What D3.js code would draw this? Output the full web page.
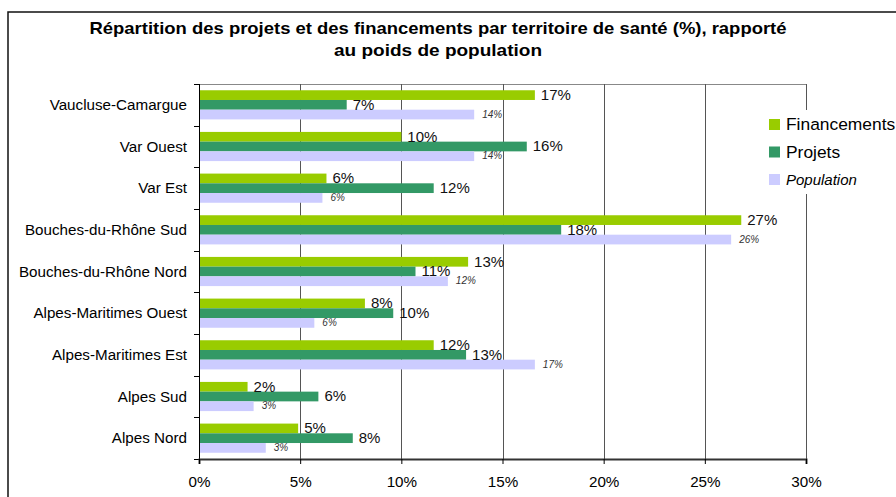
<!DOCTYPE html>
<html>
<head>
<meta charset="utf-8">
<script src="https://cdn.jsdelivr.net/npm/d3@7"></script>
<style>
  html, body { margin: 0; padding: 0; background: #fff; }
  svg { display: block; font-family: "Liberation Sans", Arial, sans-serif; }
</style>
</head>
<body>
<svg id="chart" width="896" height="497"></svg>
<script>
const categories = ["Vaucluse-Camargue", "Var Ouest", "Var Est", "Bouches-du-Rhône Sud",
  "Bouches-du-Rhône Nord", "Alpes-Maritimes Ouest", "Alpes-Maritimes Est", "Alpes Sud", "Alpes Nord"];
const seriesNames = ["Financements", "Projets", "Population"];
const financements = [16.6, 10.0, 6.3, 26.8, 13.3, 8.2, 11.6, 2.4, 4.9];
const projets      = [7.3, 16.2, 11.6, 17.9, 10.7, 9.6, 13.2, 5.9, 7.6];
const population   = [13.6, 13.6, 6.1, 26.3, 12.3, 5.7, 16.6, 2.7, 3.3];
const xTicks = [0, 5, 10, 15, 20, 25, 30];
const titleLines = ["Répartition des projets et des financements par territoire de santé (%), rapporté",
  "au poids de population"];

const colors = { Financements: "#99CC00", Projets: "#339966", Population: "#CCCCFF" };
const seriesData = { Financements: financements, Projets: projets, Population: population };

const svg = d3.select("#chart");
const pLeft = 199, pRight = 806, pTop = 84, pBottom = 459;

const x = d3.scaleLinear().domain([0, 30]).range([pLeft, pRight]);
const y = d3.scaleBand().domain(categories).range([pTop, pBottom]).paddingInner(0.3).paddingOuter(0.15);
const ySub = d3.scaleBand().domain(seriesNames).range([0, y.bandwidth()]);

// outer frame
svg.append("path")
  .attr("d", "M8,500 L8,12 L900,12")
  .attr("fill", "none").attr("stroke", "#111").attr("stroke-width", 1.5);

// title
const title = svg.append("g");
const titleWidths = [697, 208];
titleLines.forEach((t, i) => {
  title.append("text")
    .attr("x", 438).attr("y", 34 + i * 22)
    .attr("text-anchor", "middle")
    .attr("font-size", "17px").attr("font-weight", "bold").attr("fill", "#000")
    .attr("textLength", titleWidths[i]).attr("lengthAdjust", "spacingAndGlyphs")
    .text(t);
});

// plot top border
svg.append("line").attr("x1", pLeft).attr("x2", pRight).attr("y1", pTop + 0.5).attr("y2", pTop + 0.5)
  .attr("stroke", "#888").attr("stroke-width", 1);

// gridlines
svg.append("g").selectAll("line").data(xTicks.filter(d => d > 0)).join("line")
  .attr("x1", d => Math.round(x(d)) + 0.5).attr("x2", d => Math.round(x(d)) + 0.5)
  .attr("y1", pTop).attr("y2", pBottom)
  .attr("stroke", "#555").attr("stroke-width", 1);

// bars
const groups = svg.append("g").selectAll("g").data(categories).join("g")
  .attr("transform", d => `translate(0,${y(d)})`);
seriesNames.forEach(s => {
  groups.append("rect")
    .attr("x", pLeft)
    .attr("y", ySub(s))
    .attr("width", (d, i) => x(seriesData[s][i]) - pLeft)
    .attr("height", ySub.bandwidth())
    .attr("fill", colors[s]);
});

// labels
seriesNames.forEach(s => {
  const isPop = s === "Population";
  groups.append("text")
    .attr("x", (d, i) => x(seriesData[s][i]) + (isPop ? 8 : 6))
    .attr("y", ySub(s) + ySub.bandwidth() / 2 + (isPop ? 3 : 5))
    .attr("font-size", isPop ? "10px" : "15px")
    .attr("font-style", isPop ? "italic" : "normal")
    .attr("fill", isPop ? "#333" : "#111")
    .text((d, i) => Math.round(seriesData[s][i]) + "%");
});

// left axis
svg.append("line").attr("x1", pLeft + 0.5).attr("x2", pLeft + 0.5).attr("y1", pTop).attr("y2", pBottom)
  .attr("stroke", "#000").attr("stroke-width", 1);
const bounds = categories.map(c => y(c) - y.step() * y.paddingInner() / 2).concat([pBottom]);
svg.append("g").selectAll("line").data(bounds).join("line")
  .attr("x1", pLeft - 5).attr("x2", pLeft)
  .attr("y1", d => Math.round(d) + 0.5).attr("y2", d => Math.round(d) + 0.5)
  .attr("stroke", "#000");
svg.append("g").selectAll("text").data(categories).join("text")
  .attr("x", pLeft - 12)
  .attr("y", d => y(d) + y.bandwidth() / 2 + 5)
  .attr("text-anchor", "end")
  .attr("font-size", "15.2px").attr("fill", "#000")
  .text(d => d);

// bottom axis
const xAxis = d3.axisBottom(x).tickValues(xTicks).tickFormat(d => d + "%").tickSize(5).tickPadding(12);
const gx = svg.append("g").attr("transform", `translate(0,${pBottom})`).call(xAxis);
gx.select(".domain").attr("stroke", "#333").attr("stroke-width", 2);
gx.selectAll(".tick line").attr("stroke", "#000");
gx.selectAll(".tick text").attr("font-size", "15.2px").attr("font-family", "Liberation Sans, Arial, sans-serif").attr("fill", "#000");

// legend
const lg = svg.append("g");
lg.append("rect").attr("x", 760).attr("y", 110).attr("width", 140).attr("height", 84).attr("fill", "#fff");
seriesNames.forEach((s, i) => {
  const yy = 119 + i * 27.5;
  lg.append("rect").attr("x", 769).attr("y", yy).attr("width", 11).attr("height", 11).attr("fill", colors[s]);
  lg.append("text").attr("x", 786).attr("y", yy + 11)
    .attr("font-size", s === "Population" ? "15px" : "17.4px")
    .attr("font-style", s === "Population" ? "italic" : "normal")
    .attr("fill", "#000")
    .text(s);
});
</script>
</body>
</html>
